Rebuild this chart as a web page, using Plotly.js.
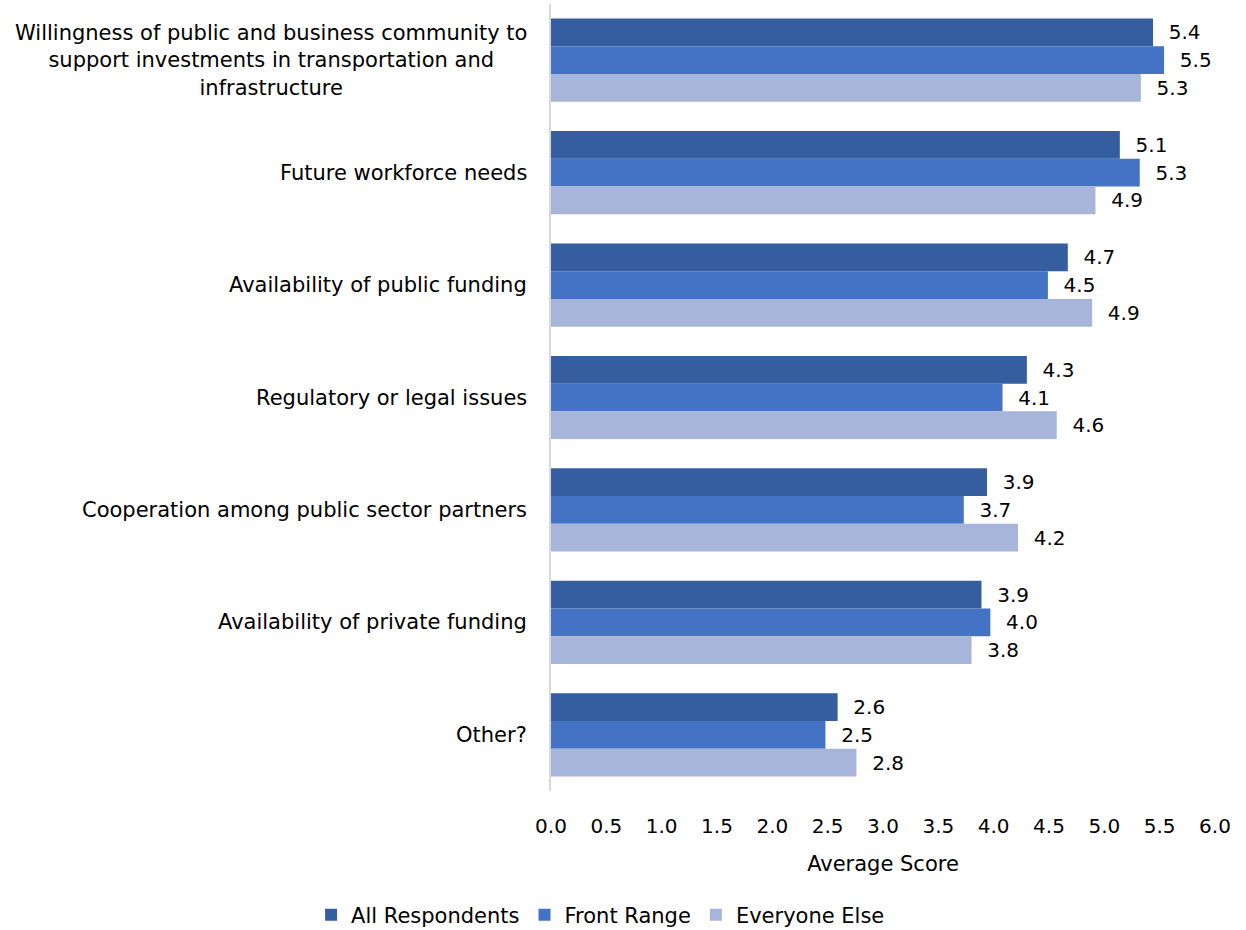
<!DOCTYPE html>
<html>
<head>
<meta charset="utf-8">
<script src="https://cdn.plot.ly/plotly-3.0.1.min.js"></script>
<style>html,body{margin:0;padding:0;background:#fff;}#chart{width:1246px;height:930px;}</style>
</head>
<body>
<div id="chart"></div>
<script>
const categories = [
  "Willingness of public and business community to<br>support investments in transportation and<br>infrastructure",
  "Future workforce needs",
  "Availability of public funding",
  "Regulatory or legal issues",
  "Cooperation among public sector partners",
  "Availability of private funding",
  "Other?"
];
const seriesNames = ["All Respondents", "Front Range", "Everyone Else"];
const allRespondents = [5.44, 5.14, 4.67, 4.30, 3.94, 3.89, 2.59];
const frontRange     = [5.54, 5.32, 4.49, 4.08, 3.73, 3.97, 2.48];
const everyoneElse   = [5.33, 4.92, 4.89, 4.57, 4.22, 3.80, 2.76];
const xTicks = [0, 0.5, 1, 1.5, 2, 2.5, 3, 3.5, 4, 4.5, 5, 5.5, 6];

const colors = ["#355ea0", "#4472c4", "#a8b5db"];
const FONT = "DejaVu Sans, sans-serif";
const FS = 20;
const FT = 21;
const series = [allRespondents, frontRange, everyoneElse];

const traces = series.map((vals, i) => ({
  type: "bar",
  orientation: "h",
  name: seriesNames[i],
  x: vals,
  y: categories,
  marker: {color: colors[i]},
  texttemplate: "\u00a0\u00a0%{x:.1f}",
  textposition: "outside",
  cliponaxis: false,
  textfont: {family: FONT, size: FS, color: "#000"},
  hoverinfo: "x+name"
}));

const annotations = categories.map(c => ({
  xref: "paper", yref: "y", x: 0, y: c,
  xanchor: "right", yanchor: "middle", xshift: -22,
  align: "center", showarrow: false, text: c,
  font: {family: FONT, size: FT, color: "#000"}
}));

const layout = {
  width: 1246, height: 930,
  margin: {l: 551, r: 31, t: 4, b: 139},
  paper_bgcolor: "#fff", plot_bgcolor: "#fff",
  font: {family: FONT, size: FS, color: "#000"},
  barmode: "group", bargap: 0.26, bargroupgap: 0,
  xaxis: {
    range: [0, 6], tickvals: xTicks, tickformat: ".1f",
    showgrid: false, zeroline: false, showline: false, ticks: "",
    ticklabelstandoff: 21,
    tickfont: {family: FONT, size: FS, color: "#000"},
    title: {text: "Average Score", standoff: 19, font: {family: FONT, size: FT, color: "#000"}}
  },
  yaxis: {
    autorange: "reversed", showticklabels: false, ticks: "",
    showgrid: false, zeroline: false,
    showline: true, linecolor: "#d9d9d9", linewidth: 2
  },
  showlegend: true,
  legend: {
    orientation: "h", traceorder: "normal",
    xref: "container", yref: "container",
    x: 0.482, xanchor: "center", y: 0.016, yanchor: "middle",
    font: {family: FONT, size: FT, color: "#000"},
    itemwidth: 30
  },
  annotations: annotations
};

Plotly.newPlot("chart", traces, layout, {displayModeBar: false, staticPlot: true});
</script>
</body>
</html>
